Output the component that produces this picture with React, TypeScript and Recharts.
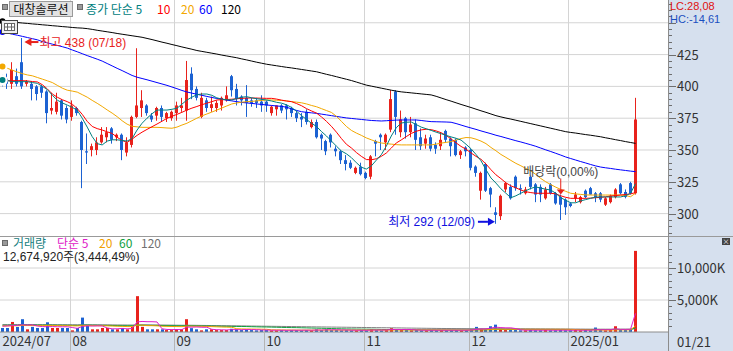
import React from 'react';
import { ComposedChart, Bar, Line, XAxis, YAxis, CartesianGrid, ReferenceDot } from 'recharts';

// ---------- categories (trading days) ----------
const JUL = [12, 15, 16, 17, 18, 19, 22, 23, 24, 25, 26, 29, 30, 31];
const AUG = [1, 2, 5, 6, 7, 8, 9, 12, 13, 14, 16, 19, 20, 21, 22, 23, 26, 27, 28, 29, 30];
const SEP = [2, 3, 4, 5, 6, 9, 10, 11, 12, 13, 19, 20, 23, 24, 25, 26, 27, 30];
const OCT = [2, 4, 7, 8, 10, 11, 14, 15, 16, 17, 18, 21, 22, 23, 24, 25, 28, 29, 30, 31];
const NOV = [1, 4, 5, 6, 7, 8, 11, 12, 13, 14, 15, 18, 19, 20, 21, 22, 25, 26, 27, 28, 29];
const DEC = [2, 3, 4, 5, 6, 9, 10, 11, 12, 13, 16, 17, 18, 19, 20, 23, 24, 26, 27, 30];
const JAN = [2, 3, 6, 7, 8, 9, 10, 13, 14, 15, 16, 17, 20, 21];
const pad2 = (n: number) => (n < 10 ? '0' + n : '' + n);
const DATES: string[] = [
  ...JUL.map((d) => `07/${pad2(d)}`),
  ...AUG.map((d) => `08/${pad2(d)}`),
  ...SEP.map((d) => `09/${pad2(d)}`),
  ...OCT.map((d) => `10/${pad2(d)}`),
  ...NOV.map((d) => `11/${pad2(d)}`),
  ...DEC.map((d) => `12/${pad2(d)}`),
  ...JAN.map((d) => `01/${pad2(d)}`),
];

// ---------- price series ----------
const OPEN = [406,406,402,408,419,402,402,400,400,396,
 381,380,389,383,376,383,372,349,350,350,
 356,360,367,360,362,348,354,376,383,385,
 377,377,383,375,375,379,383,381,410,398,
 376,389,383,383,385,389,408,398,392,391,
 389,389,388,388,379,382,385,385,383,379,
 376,380,368,372,362,357,362,351,349,342,
 340,332,337,332,329,357,362,356,366,396,
 364,375,364,371,360,355,360,354,353,365,
 359,358,346,352,350,337,318,339,320,301,
 298,319,321,329,320,316,329,323,321,312,
 323,316,313,311,308,312,309,318,320,316,
 316,307,309,313,323,317,324,316];
const HIGH = [409,410,419,414,438,405,404,401,401,397,
 395,395,390,385,389,384,373,363,355,360,
 368,368,368,363,363,360,377,430,397,386,
 379,384,385,380,381,388,391,420,415,400,
 395,391,392,389,392,400,409,402,393,401,
 391,391,393,389,385,385,386,386,384,381,
 379,382,374,374,363,358,363,353,350,346,
 342,337,340,333,346,358,363,363,397,397,
 381,376,376,374,367,362,362,356,364,366,
 360,359,350,353,351,338,333,340,321,305,
 315,325,323,330,323,321,330,324,323,321,
 324,317,315,312,309,317,314,319,321,317,
 317,313,315,320,324,319,325,391];
const LOW = [400,398,398,400,398,400,389,389,391,371,
 378,378,374,371,373,377,320,339,345,346,
 355,356,355,357,342,345,352,375,376,377,
 372,373,372,372,373,373,380,373,390,389,
 375,380,380,380,381,388,392,385,385,376,
 384,383,380,380,377,377,379,374,376,372,
 368,370,367,359,350,346,352,345,339,334,
 335,331,330,327,327,345,350,350,364,362,
 360,359,360,350,350,351,349,347,350,356,
 345,345,343,345,334,329,311,317,305,292,
 295,317,311,318,315,315,319,309,309,311,
 315,307,295,299,305,309,308,312,315,309,
 309,306,308,312,315,312,315,315];
const CLOSE = [403,402,413,402,400,404,398,394,395,379,
 383,388,377,374,385,379,350,348,353,356,
 362,364,358,362,350,356,376,385,389,379,
 374,383,376,379,380,385,385,405,397,391,
 391,383,386,387,391,393,397,390,389,387,
 387,387,385,385,384,385,381,382,379,375,
 374,372,372,360,359,349,356,349,342,339,
 336,336,331,328,345,355,360,362,390,376,
 374,364,370,358,353,359,351,351,358,358,
 353,346,349,349,336,332,332,318,315,299,
 314,324,312,320,319,319,321,315,315,319,
 316,308,307,305,306,315,313,313,315,313,
 311,312,314,319,316,313,316,374];

const MA5 = [405,404.5,403.8,403.7,403.7,403.7,403,402.4,400,397.5,
 393,389.2,387,385.3,383.5,381.2,375,368,360.5,355,
 354,357,358,358,357.5,357,359,365.7,371,375,
 378.5,381.4,381.4,381.4,382,382.8,386,389.3,391.5,393.5,
 394,394,393,391,390,389.5,389.3,390.5,391.5,391.9,
 391,390.3,389.8,389.3,388.5,387.5,386.8,385.5,383.4,380.5,
 377,374,371,368.5,364.5,361,357,353,349.2,347,
 344,340,336.5,335,337.5,342,346.3,353,361,367.5,
 371.2,371.8,372,370,368,366.7,365.4,364,362.8,361.5,
 360.3,359.2,357.8,354.5,351,346.5,341.5,334.5,328,324,
 319.5,316,312.5,314,316,318,319.8,321,320,319.2,
 318.5,316,312.5,310.5,308.5,308.5,310,311,312,313,
 313.1,313.1,313.1,313.1,313.1,314,316,323.5];
const MA10 = [404.5,404.5,404.5,404.5,404.5,404.3,403.8,403.5,401.3,398,
 394,391.5,389.5,388,386,382.5,378,372.5,368.5,366.8,
 365.7,364.3,363,360,357.5,356,358.5,361.5,364,366.2,
 368.3,370.4,372.6,374.9,376.5,378,379.6,381.4,382.9,384.2,
 385.6,386.8,388,389.3,389.5,389.7,389.9,390.3,390.6,390.8,
 390.9,390.8,390.7,390.6,390.6,390,389.2,388.5,388,386.5,
 384.8,382.5,380.7,379,376,372.5,368.6,364,359,354.5,
 351.6,348,345,342.5,342.3,343.1,345,347.6,351.5,355.5,
 357.9,360.5,363,364.7,365.8,366.3,366,365,363.6,361.5,
 358.7,355.6,352.8,350.6,347.7,345,342.7,339,334.5,330.5,
 327.5,324.2,321.8,320.3,318.5,317.2,316.5,316,316,316,
 316,315.5,314,312.8,312,312,312,312,312.2,312.5,
 312.8,313.2,313.8,314.2,314.6,315,315.5,316.5];
const MA20 = [415.6,414.2,412.7,411.3,410,409,408.3,407,405.7,404.4,
 403,400.8,398.6,397,396.3,395.5,393.5,391.5,389,386.7,
 384.2,381.5,379,376.2,373,370.3,368.6,368.2,367.8,367.8,
 367.8,367.8,367.6,367.3,367.1,368,369.6,371,373,375,
 376.8,378.3,379.8,381.4,383,384.6,386.2,387,387.6,388,
 388.2,388.6,389,389.3,389.3,389.1,388.9,388.6,388,387.6,
 387.1,386.2,385,384,382.5,381,379.5,376.5,372.5,368.5,
 365.4,363.3,361.5,359.5,358,356.5,355.5,355,354.6,354.2,
 354,354,354,354,354,354,354,354.6,355.4,356,
 356.6,357.8,359,359.8,359.6,358.5,357,355,352,349.4,
 346.5,344.2,341.8,339.5,337.6,335.5,333.5,330.8,327.6,325,
 322.8,320.8,319,317.5,316,315.5,315.1,314.7,314.6,314.6,
 314.6,314.6,314.6,314.6,314.6,314.2,313.3,316];
const MA60 = [442.8,441.9,441,440.2,439.3,438.4,437.5,436.6,435.2,434.2,
 433.2,432.2,431.2,430.1,428.6,427.2,425.7,424.2,422.8,421.4,
 419.9,418,416.1,414.2,412.4,410.5,408.6,407.2,406.2,405.2,
 404.1,403,401.9,400.8,399.5,398.2,396.8,395.6,394.7,393.8,
 393,392.1,391.3,390.5,389.9,389.2,388.6,388,387.4,387,
 386.6,386.2,385.8,385.4,385,384.6,384.3,383.6,382.3,381.1,
 380.1,379.6,379.2,378.8,378.2,377.6,377,376.4,375.8,375.2,
 374.8,374.4,374,373.6,373.2,373,372.8,373,373.3,373.5,
 373.6,373.6,373.6,373.6,373.2,372.7,372.3,372.2,372.1,372,
 371.8,370.8,369.6,368.4,367.3,366.2,365,363.9,362.8,361.6,
 360.6,359.5,358.4,357.3,356.3,355.2,354.1,352.9,351.5,350.1,
 348.8,347.4,346,344.5,343.3,342.1,340.9,339.8,338.6,337.5,
 336.6,336,335.5,334.9,334.4,333.9,333.4,333];
const MA120 = [451.2,450.9,450.5,450.2,449.8,449.5,449.1,448.8,448.4,448.1,
 447.7,447.4,447,446.7,446.3,446,445.8,445.4,444.8,444.1,
 443.5,442.9,442.3,441.6,441,440.4,439.8,439.2,438.6,437.7,
 436.8,435.8,434.8,433.9,432.9,432,431,430.1,429.2,428.2,
 427.5,426.8,426.1,425.4,424.6,423.9,423.2,422.5,421.6,420.8,
 419.9,419,418.2,417.4,416.8,416.2,415.6,415,414.5,413.9,
 413.3,412.7,412.1,411.5,410.5,409.5,408.6,407.6,406.6,405.6,
 404.6,403.4,402.2,401,400.2,399.4,398.6,397.8,397,396.3,
 395.7,395.3,394.9,394.5,394.1,393.7,393.3,392.2,390.9,389.6,
 388.4,387.1,385.8,384.6,383.4,382.1,380.8,379.6,378.3,377,
 376,375.1,374.3,373.4,372.5,371.6,370.7,369.8,368.9,368,
 367.1,366.2,365.3,364.4,363.8,363.3,362.7,362.1,361.6,361,
 360.4,359.6,358.9,358.1,357.4,356.6,355.9,355.2];

// ---------- volume series (thousand shares) ----------
const VOLUME = [630,630,1570,785,2000,420,800,630,630,1520,
 630,630,630,630,260,630,2250,1050,420,420,
 630,630,420,420,630,420,800,5600,800,420,
 420,420,420,300,300,420,420,2000,600,420,
 260,420,420,300,300,300,500,420,300,400,
 300,260,300,300,260,260,300,260,300,300,
 260,300,260,420,300,420,300,300,260,300,
 260,260,300,260,420,300,260,300,600,420,
 300,300,260,300,260,260,300,260,300,260,
 300,300,260,260,420,800,500,420,900,1150,
 500,300,300,300,260,260,300,260,260,300,
 260,260,300,260,260,300,260,300,260,700,
 300,260,300,900,300,300,368,12675];
const VMA5 = [900,950,1000,1050,1120,1080,1120,930,850,820,
 850,820,820,820,700,570,870,950,930,950,
 950,630,500,500,550,500,540,1570,1650,1610,
 1610,1570,500,400,380,380,380,770,760,780,
 740,740,420,360,340,320,370,360,360,380,
 380,360,320,310,280,280,280,270,280,280,
 280,290,280,310,310,340,340,350,320,320,
 290,280,280,270,300,310,310,310,380,400,
 380,400,380,320,290,280,280,280,280,280,
 280,280,280,280,310,410,460,480,620,750,
 690,650,650,530,330,280,280,280,280,280,
 280,270,280,280,270,280,280,280,280,360,
 360,360,360,490,410,410,430,2900];
const VMA20 = [950,950,980,980,1020,1010,1010,1000,990,1020,
 1010,1000,990,980,960,950,1000,1020,1000,990,
 980,960,930,900,880,850,840,1060,1070,1000,
 990,960,900,880,860,850,840,920,900,890,
 880,860,840,810,780,760,740,510,480,470,
 460,450,440,420,340,330,320,310,310,300,
 300,300,295,300,300,305,305,305,300,300,
 300,300,300,300,305,305,300,300,310,320,
 320,320,320,320,320,320,320,315,315,315,
 310,305,300,300,305,330,340,345,370,410,
 420,420,420,420,420,420,420,420,420,420,
 420,420,420,420,410,380,350,340,330,300,
 300,300,300,330,330,330,330,950];
const VMA60 = [1050,1050,1060,1060,1080,1080,1080,1070,1070,1080,
 1070,1060,1060,1050,1040,1030,1060,1070,1060,1050,
 1040,1030,1020,1000,990,980,980,1060,1060,1050,
 1040,1030,1010,1000,990,980,970,990,980,970,
 950,940,930,920,900,890,880,870,860,850,
 830,810,790,780,760,740,720,700,690,680,
 660,640,620,600,580,560,540,520,500,480,
 470,460,450,440,430,420,400,390,380,370,
 360,355,350,345,340,335,330,325,320,320,
 320,320,320,320,325,335,340,345,360,375,
 380,380,380,380,380,380,380,380,380,380,
 380,380,380,380,380,380,380,380,380,390,
 390,390,390,400,400,400,400,610];
const VMA120 = [1150,1150,1150,1150,1160,1160,1160,1150,1150,1150,
 1150,1140,1140,1140,1130,1130,1140,1140,1130,1130,
 1120,1120,1110,1100,1100,1090,1090,1120,1120,1110,
 1100,1100,1090,1080,1070,1060,1050,1060,1050,1040,
 1030,1020,1010,1000,990,980,970,960,950,940,
 930,920,910,900,890,880,870,860,850,840,
 830,820,810,800,790,780,770,760,750,740,
 730,720,710,700,690,680,670,660,650,640,
 630,620,610,600,590,580,570,560,550,545,
 540,535,530,525,520,520,520,520,525,530,
 530,530,525,520,515,510,505,500,495,490,
 485,480,475,470,465,460,455,450,445,445,
 440,440,440,440,440,440,440,545];

// ---------- ticks / labels ----------
const PRICE_TICKS = [285,290,295,300,305,310,315,320,325,330,335,340,345,350,355,360,365,370,375,380,385,390,395,400,405,410,415,420,425,430,435,440,445,450,455,460,465];
const PRICE_LABELS = [300, 325, 350, 375, 400, 425];
const PRICE_GRID = [300, 325, 350, 375, 400, 425, 450];
const VOL_TICKS = [1000,2000,3000,4000,5000,6000,7000,8000,9000,10000,11000,12000,13000,14000];
const VOL_GRID = [5000, 10000];
const VOL_LABELS: Record<number, string> = { 5000: '5,000K', 10000: '10,000K' };
const MONTH_TICKS = ['07/12', '08/01', '09/02', '10/02', '11/01', '12/02', '01/02'];
const MONTH_NAMES = ['2024/07', '08', '09', '10', '11', '12', '2025/01'];
const HIGH_DATE = '07/18';
const LOW_DATE = '12/09';
const DIV_DATE = '12/27';

// ---------- layout ----------
const W = 733;
const AXIS_W = 65;
const PLOT_W = W - AXIS_W;
const PAD_R = 30;
const N = DATES.length;
const BAND = (PLOT_W - PAD_R) / N;
const FONT = "'Liberation Sans Narrow', 'Noto Sans CJK KR', sans-serif";
const ANN_FONT = "'Liberation Sans', 'Noto Sans CJK KR', sans-serif";
const RED = '#e8221c';
const BLUE = '#1c62d2';
const GRID = '#d4d4d4';

const rows = DATES.map((date, i) => ({
  date,
  o: OPEN[i], h: HIGH[i], l: LOW[i], c: CLOSE[i],
  ma5: MA5[i], ma10: MA10[i], ma20: MA20[i], ma60: MA60[i], ma120: MA120[i],
  vol: VOLUME[i], vma5: VMA5[i], vma20: VMA20[i], vma60: VMA60[i], vma120: VMA120[i],
}));

const gridX = ({ offset }: any) =>
  MONTH_TICKS.slice(1).map((d) => Math.round((offset?.left ?? 0) + DATES.indexOf(d) * BAND) + 0.5);

const Candle = (props: any) => {
  const { x, y, width, height, payload } = props;
  if (!payload || y == null || height == null) return null;
  const { o, h, l, c } = payload;
  const top = Math.min(y, y + height);
  const span = Math.abs(height);
  const ppu = span / (h - l || 1);
  const color = c >= o ? RED : BLUE;
  const bTop = top + (h - Math.max(o, c)) * ppu;
  const bBot = top + (h - Math.min(o, c)) * ppu;
  const cx = x + width / 2;
  const bx = Math.round(cx - 1.5);
  return (
    <g>
      <rect x={bx + 1} y={top} width={1} height={Math.max(span, 1)} fill={color} />
      <rect x={bx} y={bTop} width={3} height={Math.max(bBot - bTop, 1)} fill={color} />
    </g>
  );
};

const VolBar = (props: any) => {
  const { x, y, width, height, payload } = props;
  if (!payload || y == null) return null;
  const color = payload.c >= payload.o ? RED : BLUE;
  const cx = x + width / 2;
  const bx = Math.round(cx - 1.5);
  const top = Math.min(y, y + height);
  return <rect x={bx} y={top} width={3} height={Math.max(Math.abs(height), 1)} fill={color} />;
};

const PriceTick = ({ x, y, payload }: any) => {
  const v = payload.value;
  const major = v % 25 === 0;
  const yy = Math.round(y) + 0.5;
  return (
    <g>
      <line x1={x} x2={x + (major ? 8 : 4)} y1={yy} y2={yy} stroke="#6e6e6e" />
      {PRICE_LABELS.includes(v) && (
        <text x={x + 9} y={y + 5} fontSize={13} fill="#333" fontFamily={FONT}>{v}</text>
      )}
    </g>
  );
};

const VolTick = ({ x, y, payload }: any) => {
  const v = payload.value;
  const major = v % 5000 === 0;
  const yy = Math.round(y) + 0.5;
  return (
    <g>
      <line x1={x} x2={x + (major ? 8 : 4)} y1={yy} y2={yy} stroke="#6e6e6e" />
      {VOL_LABELS[v] && (
        <text x={x + 9} y={y + 5} fontSize={13} fill="#333" fontFamily={FONT}>{VOL_LABELS[v]}</text>
      )}
    </g>
  );
};

const DateTick = ({ x, y, payload }: any) => {
  const idx = MONTH_TICKS.indexOf(payload.value);
  if (idx < 0) return null;
  const lx = Math.round(x - BAND / 2) + 0.5;
  return (
    <g>
      {idx > 0 && <line x1={lx} x2={lx} y1={y} y2={y + 19} stroke="#b4b4b4" />}
      <text x={lx + 2} y={y + 14} fontSize={13} fill="#333" fontFamily={FONT}>{MONTH_NAMES[idx]}</text>
    </g>
  );
};

const HighMarker = ({ cx, cy }: any) => (
  <g>
    <line x1={cx + 6} y1={cy + 4} x2={cx + 16} y2={cy + 4} stroke={RED} strokeWidth={2} />
    <polygon points={`${cx + 2},${cy + 4} ${cx + 9},${cy} ${cx + 9},${cy + 8}`} fill={RED} />
    <text x={cx + 17} y={cy + 8.5} fontSize={12} fill={RED} fontFamily={ANN_FONT}>최고 438 (07/18)</text>
  </g>
);

const LowMarker = ({ cx, cy }: any) => (
  <g>
    <line x1={cx - 18} y1={cy - 2} x2={cx - 8} y2={cy - 2} stroke="#1010e0" strokeWidth={2} />
    <polygon points={`${cx - 1},${cy - 2} ${cx - 8},${cy - 6} ${cx - 8},${cy + 2}`} fill="#1010e0" />
    <text x={cx - 21} y={cy + 2.5} fontSize={12} fill="#1010e0" fontFamily={ANN_FONT} textAnchor="end">최저 292 (12/09)</text>
  </g>
);

const DivMarker = ({ cx, cy }: any) => (
  <g>
    <line x1={cx} y1={cy - 16} x2={cx} y2={cy - 4} stroke={RED} strokeWidth={1} />
    <polygon points={`${cx - 4},${cy - 5} ${cx + 4},${cy - 5} ${cx},${cy}`} fill={RED} />
    <text x={cx} y={cy - 18.5} fontSize={12} fill="#444" fontFamily={ANN_FONT} textAnchor="middle">배당락(0,00%)</text>
  </g>
);

const T = ({ x, y, color, size = 12, font = FONT, children }: any) => (
  <div style={{ position: 'absolute', left: x, top: y, color, fontSize: size, lineHeight: `${size}px`, whiteSpace: 'nowrap', fontFamily: font }}>
    {children}
  </div>
);

const Sq = ({ x, y }: any) => (
  <div style={{ position: 'absolute', left: x, top: y, width: 4, height: 4, background: '#9a9a9a', border: '1px solid #6a6a6a' }} />
);

export default function App() {
  const divIdx = DATES.indexOf(DIV_DATE);
  return (
    <div style={{ position: 'absolute', left: 0, top: 0, width: W, height: 351, background: '#fff', overflow: 'hidden', fontFamily: FONT }}>
      <div style={{ position: 'absolute', left: PLOT_W, top: 0, width: AXIS_W, height: 351, background: '#d6e0ee' }} />
      <div style={{ position: 'absolute', left: 0, top: 332, width: W, height: 19, background: '#d6e0ee' }} />

      <div style={{ position: 'absolute', left: 0, top: 0 }}>
        <ComposedChart width={W} height={236} data={rows} margin={{ top: 0, right: 0, bottom: 0, left: 0 }}>
          <CartesianGrid stroke={GRID} horizontalValues={PRICE_GRID} verticalCoordinatesGenerator={gridX} />
          <XAxis dataKey="date" hide padding={{ left: 0, right: PAD_R }} />
          <YAxis orientation="right" width={AXIS_W} type="number" domain={[282.4, 467.9]} allowDataOverflow
            ticks={PRICE_TICKS} interval={0} tick={(p: any) => <PriceTick {...p} />} tickLine={false} axisLine={false} tickSize={0} tickMargin={0} />
          <Line dataKey="ma120" stroke="#000000" strokeWidth={1} dot={false} isAnimationActive={false} />
          <Line dataKey="ma60" stroke="#0000ff" strokeWidth={1} dot={false} isAnimationActive={false} />
          <Line dataKey="ma20" stroke="#f2a800" strokeWidth={1} dot={false} isAnimationActive={false} />
          <Line dataKey="ma10" stroke="#ff0000" strokeWidth={1} dot={false} isAnimationActive={false} />
          <Line dataKey="ma5" stroke="#008080" strokeWidth={1} dot={false} isAnimationActive={false} />
          <Bar dataKey={(d: any) => [d.l, d.h]} barSize={4} shape={(p: any) => <Candle {...p} />} isAnimationActive={false} />
          <ReferenceDot x={HIGH_DATE} y={Math.max(...HIGH)} r={0} shape={(p: any) => <HighMarker {...p} />} />
          <ReferenceDot x={LOW_DATE} y={Math.min(...LOW)} r={0} shape={(p: any) => <LowMarker {...p} />} />
          <ReferenceDot x={DIV_DATE} y={HIGH[divIdx]} r={0} shape={(p: any) => <DivMarker {...p} />} />
        </ComposedChart>
      </div>

      <div style={{ position: 'absolute', left: 0, top: 236, width: W, height: 1, background: '#9a9a9a' }} />

      <div style={{ position: 'absolute', left: 0, top: 237 }}>
        <ComposedChart width={W} height={114} data={rows} margin={{ top: 0, right: 0, bottom: 0, left: 0 }}>
          <CartesianGrid stroke={GRID} horizontalValues={VOL_GRID} verticalCoordinatesGenerator={gridX} />
          <XAxis dataKey="date" height={19} padding={{ left: 0, right: PAD_R }} ticks={MONTH_TICKS} interval={0}
            tick={(p: any) => <DateTick {...p} />} tickLine={false} tickSize={0} tickMargin={0} axisLine={{ stroke: '#8c8c8c' }} />
          <YAxis orientation="right" width={AXIS_W} type="number" domain={[0, 14844]} allowDataOverflow
            ticks={VOL_TICKS} interval={0} tick={(p: any) => <VolTick {...p} />} tickLine={false} axisLine={false} tickSize={0} tickMargin={0} />
          <Bar dataKey="vol" barSize={3} shape={(p: any) => <VolBar {...p} />} isAnimationActive={false} />
          <Line dataKey="vma120" stroke="#808080" strokeWidth={1} dot={false} isAnimationActive={false} />
          <Line dataKey="vma60" stroke="#10a040" strokeWidth={1} dot={false} isAnimationActive={false} />
          <Line dataKey="vma20" stroke="#f2a000" strokeWidth={1} dot={false} isAnimationActive={false} />
          <Line dataKey="vma5" stroke="#e020c8" strokeWidth={1} dot={false} isAnimationActive={false} />
        </ComposedChart>
      </div>

      <div style={{ position: 'absolute', left: PLOT_W, top: 0, width: 1, height: 351, background: '#8c8c8c' }} />

      {/* price header */}
      <Sq x={2} y={4} />
      <div style={{ position: 'absolute', left: 9, top: 1, width: 62, height: 14, background: '#e2e2e2', border: '1px solid #9a9a9a', fontSize: 12, lineHeight: '14px', textAlign: 'center', color: '#111', fontFamily: FONT }}>대창솔루션</div>
      <Sq x={77} y={4} />
      <T x={86} y={3} color="#008080">종가 단순 5</T>
      <T x={157} y={3} color="#ff0000">10</T>
      <T x={181} y={3} color="#f2a800">20</T>
      <T x={199} y={3} color="#0000ff">60</T>
      <T x={221} y={3} color="#000">120</T>
      <svg style={{ position: 'absolute', left: 1, top: 20 }} width={17} height={14}>
        <rect x={0.5} y={0.5} width={16} height={13} fill="#eeeeee" stroke="#444" />
        <rect x={3.5} y={3.5} width={10} height={7} fill="#fff" stroke="#666" />
        <line x1={6.5} y1={3.5} x2={6.5} y2={10.5} stroke="#666" />
        <line x1={10.5} y1={3.5} x2={10.5} y2={10.5} stroke="#666" />
        <line x1={3.5} y1={7} x2={13.5} y2={7} stroke="#666" />
      </svg>
      <T x={670} y={1} color="#e01010" size={11} font={ANN_FONT}>LC:28,08</T>
      <T x={670} y={13.5} color="#1a4fc0" size={11} font={ANN_FONT}>HC:-14,61</T>

      {/* volume header */}
      <Sq x={2} y={240} />
      <T x={13} y={237} color="#178080" size={12}>거래량</T>
      <T x={57} y={237} color="#e020c8" size={12}>단순 5</T>
      <T x={99} y={237} color="#f2a000" size={12}>20</T>
      <T x={119} y={237} color="#10a040" size={12}>60</T>
      <T x={141} y={237} color="#707070" size={12}>120</T>
      <T x={3} y={251} color="#222" size={12} font={ANN_FONT}>12,674,920주(3,444,49%)</T>
      <div style={{ position: 'absolute', left: 722, top: 238, width: 8, height: 7, background: '#444', color: '#fff', fontSize: 7, lineHeight: '7px', textAlign: 'center' }}>×</div>

      <T x={677} y={335} color="#333" size={13}>01/21</T>
    </div>
  );
}
